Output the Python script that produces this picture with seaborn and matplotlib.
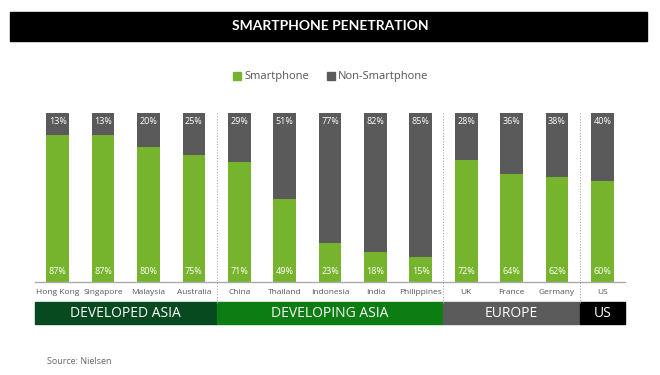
import matplotlib
matplotlib.use("Agg")
import matplotlib.pyplot as plt
import seaborn as sns
import pandas as pd
from matplotlib.patches import Rectangle
from matplotlib.lines import Line2D

countries = ["Hong Kong", "Singapore", "Malaysia", "Australia", "China", "Thailand",
             "Indonesia", "India", "Philippines", "UK", "France", "Germany", "US"]
smartphone = [87, 87, 80, 75, 71, 49, 23, 18, 15, 72, 64, 62, 60]
non_smartphone = [13, 13, 20, 25, 29, 51, 77, 82, 85, 28, 36, 38, 40]
groups = ["DEVELOPED ASIA", "DEVELOPING ASIA", "EUROPE", "US"]
group_sizes = [4, 5, 3, 1]
group_colors = ["#074a20", "#0b7d12", "#5b5b5b", "#000000"]

GREEN = "#77b42d"
GREY = "#5a5a5a"

sns.set_theme(style="white")
plt.rcParams["font.family"] = ["Open Sans", "DejaVu Sans"]

df = pd.DataFrame({"country": countries, "smart": smartphone, "non": non_smartphone})
df["total"] = df["smart"] + df["non"]

fig = plt.figure(figsize=(6.6, 3.75), dpi=100)
ax = fig.add_axes([35/660, 1-282/375, 590/660, 169/375])

sns.barplot(data=df, x="country", y="total", color=GREY, width=0.5, ax=ax,
            saturation=1, edgecolor="none")
sns.barplot(data=df, x="country", y="smart", color=GREEN, width=0.5, ax=ax,
            saturation=1, edgecolor="none")

ax.set_xlim(-0.5, 12.5)
ax.set_ylim(0, 100)
ax.set_xlabel("")
ax.set_ylabel("")
ax.set_yticks([])
ax.tick_params(axis="x", length=0, pad=5, labelsize=6, labelcolor="#555555")
for s in ["top", "left", "right"]:
    ax.spines[s].set_visible(False)
ax.spines["bottom"].set_color("#aaaaaa")
ax.spines["bottom"].set_linewidth(1)

for i, (s, n) in enumerate(zip(smartphone, non_smartphone)):
    ax.text(i, 95, f"{n}%", ha="center", va="center", color="white", fontsize=6.5)
    ax.text(i, 6, f"{s}%", ha="center", va="center", color="white", fontsize=6.5)

# dotted separators
for xp in [3.5, 8.5, 11.5]:
    ax.plot([xp, xp], [100, -12.4], color="#aaaaaa", lw=0.8, ls=(0, (1, 1.5)),
            clip_on=False)

# group bands
start = -0.5
for g, n, c in zip(groups, group_sizes, group_colors):
    ax.add_patch(Rectangle((start, -24.9), n, 13.1, color=c, clip_on=False,
                           transform=ax.transData))
    ax.text(start + n / 2, -18.4, g, ha="center", va="center", color="white",
            fontsize=10)
    start += n

# title bar
fig.patches.append(Rectangle((10/660, 1-41/375), 637/660, 29/375, color="black",
                             transform=fig.transFigure, zorder=0))
fig.text(0.5, 1-26.5/375, "SMARTPHONE PENETRATION", ha="center", va="center",
         color="white", fontsize=10, fontweight="bold",
         family=["Lato", "DejaVu Sans"])

# legend
handles = [Line2D([], [], marker="s", ls="", color=GREEN, markersize=6),
           Line2D([], [], marker="s", ls="", color=GREY, markersize=6)]
fig.legend(handles, ["Smartphone", "Non-Smartphone"], loc="center",
           bbox_to_anchor=(0.5, 1-77/375), ncol=2, frameon=False, fontsize=8,
           labelcolor="#555555", handletextpad=0.1, columnspacing=1.5,
           handlelength=1)

fig.text(47/660, 1-362/375, "Source: Nielsen", ha="left", va="center",
         color="#666666", fontsize=6.5)

fig.savefig("out.png", dpi=100)
